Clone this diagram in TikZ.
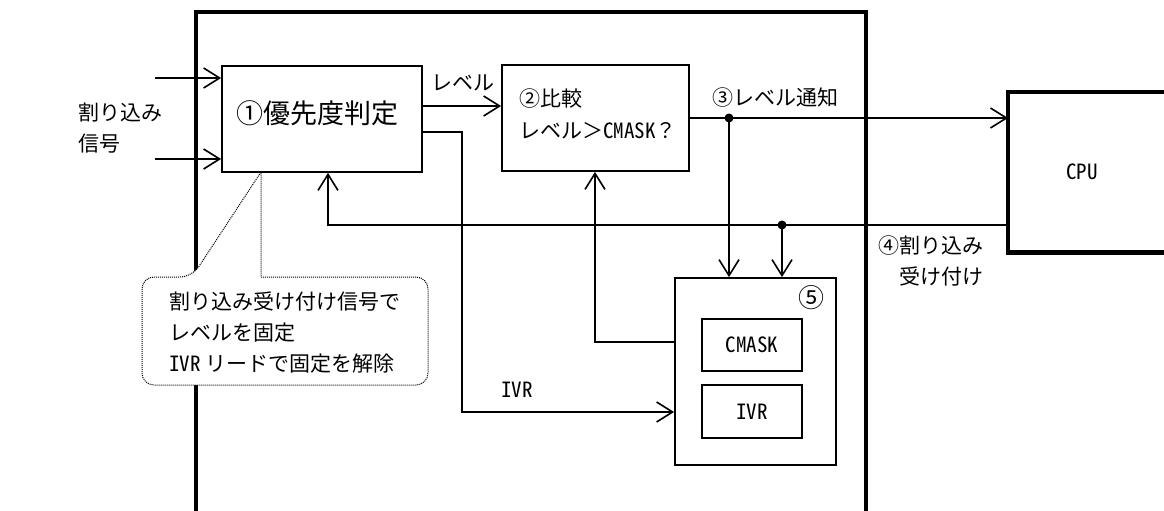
\documentclass[tikz,border=0pt]{standalone}
\usepackage{fontspec}
\setmainfont{Noto Sans CJK JP}
\newfontfamily\hankaku{Noto Sans CJK JP}[RawFeature=+hwid]
\usetikzlibrary{arrows.meta,calc}

\begin{document}
\begin{tikzpicture}[x=1pt,y=-1pt,
    txt/.style={font=\fontsize{21}{31}\selectfont, inner sep=0pt},
    box/.style={draw, line width=1.8pt, inner sep=0pt},
    wire/.style={line width=1.6pt},
    arr/.style={line width=1.6pt, -{Straight Barb[length=16pt,width=20pt]}},
    junc/.style={circle, fill, inner sep=0pt, minimum size=9pt},
    callout/.style={densely dotted, line width=1pt, fill=white}]
    \useasboundingbox (0,0) rectangle (1164,511);
    % chip frame, open at the bottom
    \draw[line width=3.5pt] (196,530) -- (196,12) -- (866,12) -- (866,530);
    % note
    \draw[callout] (261,277) [rounded corners=12pt] -- (428,277) -- (428,385) -- (142,385) -- (142,277) -- (192,277) [sharp corners] -- (261,172) -- cycle;
    \node[txt, anchor=west, align=left] (note) at (169,333) {割り込み受け付け信号で\\レベルを固定\\{\hankaku IVR} リードで固定を解除};
    % CPU
    \node[txt, minimum width=148, minimum height=160, anchor=north west] (cpu) at (1008,92) {\hankaku CPU};
    \draw[line width=4.5pt] ([xshift=30pt]cpu.north east) -- (cpu.north west) -- (cpu.south west) -- ([xshift=30pt]cpu.south east);
    % blocks
    \node[box, minimum width=200, minimum height=106] (prio) at (322,119) {};
    \node[font=\fontsize{27}{30}\selectfont, inner sep=0pt] (prioT) at ([xshift=-5pt,yshift=6pt]prio.center) {①優先度判定};
    \node[box, minimum width=187, minimum height=106] (cmp) at (595.5,118) {};
    \node[txt, anchor=west, align=left] (cmpT) at (519,114) {②比較\\[1pt]レベル＞{\hankaku CMASK}？};
    \node[box, minimum width=161, minimum height=187] (reg) at (755.5,371.5) {};
    \node[font=\fontsize{26}{30}\selectfont, inner sep=0pt] (regN) at (811,298) {⑤};
    \node[box, txt, minimum width=100, minimum height=52] (cmask) at (752,345) {\hankaku CMASK};
    \node[box, txt, minimum width=100, minimum height=53] (ivr) at (752,411.5) {\hankaku IVR};
    % labels
    \node[txt, anchor=west, align=left] (irq) at (78,128) {割り込み\\信号};
    \node[txt] (lvlL) at (463,83) {レベル};
    \node[txt] (lvl3) at (775,98) {③レベル通知};
    \node[txt, anchor=east, align=right] (ack) at (984,261) {④割り込み\\受け付け};
    \node[txt] (ivrL) at (517,390) {\hankaku IVR};
    % interrupt inputs
    \coordinate (in1) at (155,78);
    \coordinate (in2) at (155,159);
    \draw[arr] (in1) -- (in1 -| prio.west);
    \draw[arr] (in2) -- (in2 -| prio.west);
    % level and IVR
    \draw[arr] ([yshift=13pt]prio.east) -- ([yshift=13pt]prio.east -| cmp.west);
    \coordinate (ivrbend) at (462,412);
    \draw[arr] ([yshift=-13pt]prio.east) -| (ivrbend) -- (ivrbend -| reg.west);
    % level notice
    \coordinate (n3) at (729,118);
    \draw[wire] (cmp.east) -- (n3);
    \draw[arr] (n3) -- (n3 -| cpu.west);
    \draw[arr] (n3) -- (n3 |- reg.north);
    \node[junc] (d3) at (n3) {};
    % acknowledge
    \coordinate (n4) at (782,225);
    \coordinate (ackL) at (328,225);
    \draw[arr] (n4 -| cpu.west) -- (ackL) -- (ackL |- prio.south);
    \draw[arr] (n4) -- (n4 |- reg.north);
    \node[junc] (d4) at (n4) {};
    % CMASK back to compare
    \coordinate (fb) at (595,342);
    \draw[arr] (fb -| reg.west) -- (fb) -- (fb |- cmp.south);
\end{tikzpicture}
\end{document}
